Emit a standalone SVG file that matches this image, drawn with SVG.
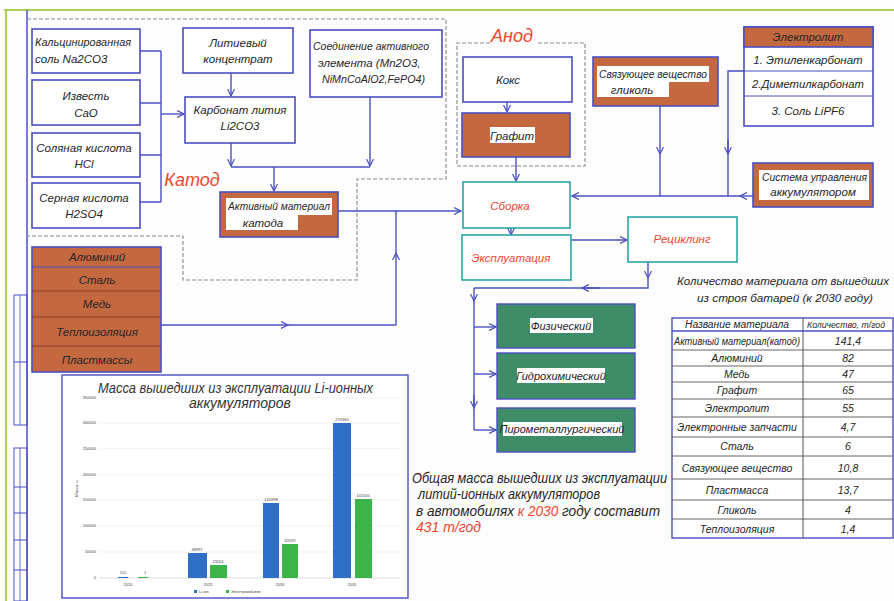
<svg xmlns="http://www.w3.org/2000/svg" width="894" height="601" viewBox="0 0 894 601">
<defs>
<marker id="ar" markerWidth="8" markerHeight="8" refX="7" refY="4" orient="auto" markerUnits="userSpaceOnUse">
<path d="M0,0.5 L7,4 L0,7.5" fill="none" stroke="#4a4fc2" stroke-width="1.2"/>
</marker>
<style>
.bx{fill:#fff;stroke:#4a4fc2;stroke-width:1.6}
.br{fill:#c4683f;stroke:#4a4fc2;stroke-width:1.6}
.gr{fill:#3f8c68;stroke:#4a4fc2;stroke-width:1.4}
.tl{fill:#fff;stroke:#2aa6a8;stroke-width:1.6}
.ln{fill:none;stroke:#4a4fc2;stroke-width:1.4}
.ds{fill:none;stroke:#8a8a8a;stroke-width:1.1;stroke-dasharray:4 2}
.t{font-family:"Liberation Sans",Arial,sans-serif;font-style:italic;font-size:11.5px;fill:#262626}
.c{text-anchor:middle}
.r{fill:#f0462e}
.wb{fill:#fff}
.tb{font-family:"Liberation Sans",Arial,sans-serif;font-style:italic;font-size:10.5px;fill:#262626;text-anchor:middle}
.sm{font-family:"Liberation Sans",Arial,sans-serif;font-size:4px;fill:#444}
.grid{stroke:#e6e6e6;stroke-width:0.6}
</style>
</defs>
<rect width="894" height="601" fill="#fdfdfd"/>
<g id="frame">
<line x1="4" y1="10" x2="894" y2="10" stroke="#a9d05a" stroke-width="2"/>
<line x1="6" y1="10" x2="6" y2="601" stroke="#a9d05a" stroke-width="2"/>
<line x1="27" y1="10" x2="27" y2="601" stroke="#4a4fc2" stroke-width="1.5"/>
<rect x="14" y="295" width="13" height="130" fill="none" stroke="#4a4fc2" stroke-width="1"/>
<line x1="20" y1="295" x2="20" y2="425" stroke="#4a4fc2" stroke-width="0.8"/>
<line x1="14" y1="362" x2="27" y2="362" stroke="#4a4fc2" stroke-width="1"/>
<rect x="14" y="448" width="13" height="153" fill="none" stroke="#4a4fc2" stroke-width="1"/>
<line x1="20" y1="448" x2="20" y2="601" stroke="#4a4fc2" stroke-width="0.8"/>
<line x1="14" y1="487" x2="27" y2="487" stroke="#4a4fc2" stroke-width="1"/>
<line x1="14" y1="513" x2="27" y2="513" stroke="#4a4fc2" stroke-width="1"/>
<line x1="14" y1="540" x2="27" y2="540" stroke="#4a4fc2" stroke-width="1"/>
<line x1="14" y1="570" x2="27" y2="570" stroke="#4a4fc2" stroke-width="1"/>
</g>
<g id="regions">
<path class="ds" d="M27,19 H446 V179 H357 V280 H183 V236 H27"/>
<path class="ds" d="M490,43 H457 V166 H585 V43 H536"/>
<text class="t r" x="512" y="42" style="font-size:18px" text-anchor="middle">Анод</text>
<text class="t r" x="192" y="186" style="font-size:18px" text-anchor="middle">Катод</text>
</g>
<g id="connectors">
<path class="ln" d="M140,51 H161 M140,103 H161 M140,155 H161 M140,202 H161 M161,51 V202"/>
<line class="ln" x1="161" y1="114" x2="184" y2="114" marker-end="url(#ar)"/>
<line class="ln" x1="231" y1="73" x2="231" y2="96" marker-end="url(#ar)"/>
<line class="ln" x1="231" y1="143" x2="231" y2="166" marker-end="url(#ar)"/>
<line class="ln" x1="370" y1="97" x2="370" y2="166" marker-end="url(#ar)"/>
<line class="ln" x1="231" y1="167" x2="370" y2="167"/>
<line class="ln" x1="274" y1="167" x2="274" y2="191" marker-end="url(#ar)"/>
<line class="ln" x1="338" y1="211" x2="461" y2="211" marker-end="url(#ar)"/>
<line class="ln" x1="161" y1="325" x2="288" y2="325" marker-end="url(#ar)"/>
<line class="ln" x1="288" y1="325" x2="396" y2="325"/>
<line class="ln" x1="396" y1="325" x2="396" y2="253" marker-end="url(#ar)"/>
<line class="ln" x1="396" y1="253" x2="396" y2="211"/>
<line class="ln" x1="507" y1="102" x2="507" y2="112" marker-end="url(#ar)"/>
<line class="ln" x1="516" y1="157" x2="516" y2="181" marker-end="url(#ar)"/>
<line class="ln" x1="511" y1="228" x2="511" y2="235" marker-end="url(#ar)"/>
<line class="ln" x1="571" y1="240" x2="627" y2="240" marker-end="url(#ar)"/>
<line class="ln" x1="648" y1="262" x2="648" y2="278" marker-end="url(#ar)"/>
<path class="ln" d="M648,278 V288 H582"/>
<line class="ln" x1="600" y1="288" x2="582" y2="288" marker-end="url(#ar)"/>
<line class="ln" x1="582" y1="288" x2="474" y2="288"/>
<line class="ln" x1="474" y1="288" x2="474" y2="301" marker-end="url(#ar)"/>
<line class="ln" x1="474" y1="301" x2="474" y2="430"/>
<line class="ln" x1="474" y1="395" x2="474" y2="408" marker-end="url(#ar)"/>
<line class="ln" x1="474" y1="327" x2="496" y2="327" marker-end="url(#ar)"/>
<line class="ln" x1="474" y1="374" x2="496" y2="374" marker-end="url(#ar)"/>
<line class="ln" x1="474" y1="430" x2="496" y2="430" marker-end="url(#ar)"/>
<line class="ln" x1="660" y1="106" x2="660" y2="154" marker-end="url(#ar)"/>
<line class="ln" x1="660" y1="154" x2="660" y2="196"/>
<path class="ln" d="M744,71 H728 V154"/>
<line class="ln" x1="728" y1="140" x2="728" y2="154" marker-end="url(#ar)"/>
<line class="ln" x1="728" y1="154" x2="728" y2="196"/>
<line class="ln" x1="753" y1="196" x2="740" y2="196" marker-end="url(#ar)"/>
<line class="ln" x1="740" y1="196" x2="572" y2="196" marker-end="url(#ar)"/>
</g>
<g id="n-soda"><rect class="bx" x="32" y="29" width="108" height="44"/>
<text class="t" x="35" y="46" textLength="96" lengthAdjust="spacingAndGlyphs">Кальцинированная</text><text class="t" x="35" y="63">соль Na2CO3</text></g>
<g id="n-lime"><rect class="bx" x="32" y="80" width="108" height="45"/>
<text class="t c" x="86" y="100">Известь</text><text class="t c" x="86" y="117">CaO</text></g>
<g id="n-hcl"><rect class="bx" x="32" y="133" width="108" height="44"/>
<text class="t c" x="84" y="152">Соляная кислота</text><text class="t c" x="84" y="168">HCl</text></g>
<g id="n-h2so4"><rect class="bx" x="32" y="183" width="108" height="45"/>
<text class="t c" x="84" y="202">Серная кислота</text><text class="t c" x="84" y="218">H2SO4</text></g>
<g id="n-lith"><rect class="bx" x="183" y="28" width="110" height="45"/>
<text class="t c" x="238" y="47">Литиевый</text><text class="t c" x="238" y="63">концентрат</text></g>
<g id="n-li2co3"><rect class="bx" x="185" y="97" width="110" height="46"/>
<text class="t c" x="240" y="114">Карбонат лития</text><text class="t c" x="240" y="130">Li2CO3</text></g>
<g id="n-compound"><rect class="bx" x="310" y="30" width="132" height="67"/>
<text class="t" x="313" y="50" textLength="116" lengthAdjust="spacingAndGlyphs">Соединение активного</text><text class="t" x="318" y="67">элемента (Mn2O3,</text><text class="t" x="322" y="83" textLength="103" lengthAdjust="spacingAndGlyphs">NiMnCoAlO2,FePO4)</text></g>
<g id="n-active"><rect class="br" x="220" y="192" width="118" height="45"/>
<rect class="wb" x="226" y="198" width="106" height="17"/><rect class="wb" x="226" y="215" width="72" height="15"/>
<text class="t" x="228" y="210" textLength="102" lengthAdjust="spacingAndGlyphs">Активный материал</text><text class="t c" x="263" y="227">катода</text></g>
<g id="n-materials">
<rect class="br" x="32" y="247" width="129" height="125"/>
<line x1="32" y1="267" x2="161" y2="267" stroke="#4a4fc2" stroke-width="1"/>
<line x1="32" y1="291" x2="161" y2="291" stroke="#8b3f25" stroke-width="1"/>
<line x1="32" y1="317" x2="161" y2="317" stroke="#8b3f25" stroke-width="1"/>
<line x1="32" y1="346" x2="161" y2="346" stroke="#8b3f25" stroke-width="1"/>
<text class="t c" x="97" y="261">Алюминий</text>
<text class="t c" x="97" y="284">Сталь</text>
<text class="t c" x="97" y="308">Медь</text>
<text class="t c" x="97" y="336">Теплоизоляция</text>
<text class="t c" x="97" y="364">Пластмассы</text>
</g>
<g id="n-coke"><rect class="bx" x="463" y="57" width="109" height="45"/>
<text class="t c" x="508" y="84">Кокс</text></g>
<g id="n-graphite"><rect class="br" x="462" y="113" width="108" height="44"/>
<rect class="wb" x="490" y="127" width="45" height="16"/>
<text class="t c" x="512" y="140">Графит</text></g>
<g id="n-assembly"><rect class="tl" x="463" y="182" width="107" height="46"/>
<text class="t c r" x="510" y="210">Сборка</text></g>
<g id="n-exploit"><rect class="tl" x="462" y="235" width="109" height="45"/>
<text class="t c r" x="511" y="262">Эксплуатация</text></g>
<g id="n-recycle"><rect class="tl" x="628" y="217" width="109" height="45"/>
<text class="t c r" x="682" y="243">Рециклинг</text></g>
<g id="n-phys"><rect class="gr" x="497" y="304" width="138" height="44"/>
<rect class="wb" x="530" y="318" width="63" height="15"/>
<text class="t c" x="561" y="330" style="font-size:11px">Физический</text></g>
<g id="n-hydro"><rect class="gr" x="497" y="353" width="138" height="46"/>
<rect class="wb" x="517" y="368" width="88" height="15"/>
<text class="t c" x="561" y="380" style="font-size:11px">Гидрохимический</text></g>
<g id="n-pyro"><rect class="gr" x="497" y="408" width="138" height="44"/>
<rect class="wb" x="503" y="422" width="119" height="14"/>
<text class="t c" x="562" y="433" style="font-size:11px">Пирометаллургический</text></g>
<g id="n-binder"><rect class="br" x="593" y="57" width="125" height="49"/>
<rect class="wb" x="597" y="66" width="112" height="16"/><rect class="wb" x="597" y="82" width="72" height="15"/>
<text class="t" x="599" y="78" textLength="108" lengthAdjust="spacingAndGlyphs">Связующее вещество</text><text class="t c" x="632" y="94">гликоль</text></g>
<g id="n-electrolyte">
<rect class="bx" x="744" y="27" width="129" height="99"/>
<rect class="br" x="744" y="27" width="129" height="20"/>
<line x1="744" y1="71" x2="873" y2="71" stroke="#4a4fc2" stroke-width="1"/>
<line x1="744" y1="96" x2="873" y2="96" stroke="#4a4fc2" stroke-width="1"/>
<text class="t c" x="808" y="41">Электролит</text>
<text class="t c" x="808" y="64">1. Этиленкарбонат</text>
<text class="t c" x="808" y="88" textLength="112" lengthAdjust="spacingAndGlyphs">2.Диметилкарбонат</text>
<text class="t c" x="808" y="115">3. Соль LiPF6</text>
</g>
<g id="n-bms"><rect class="br" x="753" y="163" width="120" height="44"/>
<rect class="wb" x="759" y="170" width="110" height="30"/>
<text class="t" x="762" y="181" textLength="105" lengthAdjust="spacingAndGlyphs">Система управления</text><text class="t c" x="813" y="196">аккумулятором</text></g>
<g id="table">
<text class="t" x="677" y="285" textLength="212" lengthAdjust="spacingAndGlyphs">Количество материала от вышедших</text>
<text class="t" x="697" y="302" textLength="176" lengthAdjust="spacingAndGlyphs">из строя батарей (к 2030 году)</text>
<rect x="672" y="318" width="221" height="220" fill="#fff" stroke="#4a4fc2" stroke-width="1.4"/>
<line x1="803" y1="318" x2="803" y2="538" stroke="#555" stroke-width="1"/>
<g stroke="#555" stroke-width="0.9">
<line x1="672" y1="331" x2="893" y2="331" stroke="#4a4fc2" stroke-width="1.3"/>
<line x1="672" y1="350" x2="893" y2="350"/><line x1="672" y1="366" x2="893" y2="366"/>
<line x1="672" y1="382" x2="893" y2="382"/><line x1="672" y1="399" x2="893" y2="399"/>
<line x1="672" y1="417" x2="893" y2="417"/><line x1="672" y1="437" x2="893" y2="437"/>
<line x1="672" y1="456" x2="893" y2="456"/><line x1="672" y1="479" x2="893" y2="479"/>
<line x1="672" y1="500" x2="893" y2="500"/><line x1="672" y1="519" x2="893" y2="519"/>
</g>
<text class="tb" x="737" y="328" style="font-size:10px" textLength="104" lengthAdjust="spacingAndGlyphs">Название материала</text><text class="tb" x="846" y="328" style="font-size:9.5px" textLength="78" lengthAdjust="spacingAndGlyphs">Количество, т/год</text>
<text class="tb" x="737" y="345" textLength="126" lengthAdjust="spacingAndGlyphs">Активный материал(катод)</text><text class="tb" x="848" y="345">141,4</text>
<text class="tb" x="737" y="362">Алюминий</text><text class="tb" x="848" y="362">82</text>
<text class="tb" x="737" y="378">Медь</text><text class="tb" x="848" y="378">47</text>
<text class="tb" x="737" y="394">Графит</text><text class="tb" x="848" y="394">65</text>
<text class="tb" x="737" y="412">Электролит</text><text class="tb" x="848" y="412">55</text>
<text class="tb" x="737" y="431">Электронные запчасти</text><text class="tb" x="848" y="431">4,7</text>
<text class="tb" x="737" y="450">Сталь</text><text class="tb" x="848" y="450">6</text>
<text class="tb" x="737" y="472">Связующее вещество</text><text class="tb" x="848" y="472">10,8</text>
<text class="tb" x="737" y="494">Пластмасса</text><text class="tb" x="848" y="494">13,7</text>
<text class="tb" x="737" y="514">Гликоль</text><text class="tb" x="848" y="514">4</text>
<text class="tb" x="737" y="533">Теплоизоляция</text><text class="tb" x="848" y="533">1,4</text>
</g>
<g id="chart">
<rect x="62" y="375" width="346" height="223" fill="#fff" stroke="#4a4fc2" stroke-width="1.4"/>
<text class="t" x="98" y="393" style="font-size:14px;fill:#333" textLength="275" lengthAdjust="spacingAndGlyphs">Масса вышедших из эксплуатации Li-ионных</text>
<text class="t c" x="240" y="408" style="font-size:14px;fill:#333">аккумуляторов</text>
<g class="grid">
<line x1="100" y1="552" x2="400" y2="552"/><line x1="100" y1="526" x2="400" y2="526"/>
<line x1="100" y1="500" x2="400" y2="500"/><line x1="100" y1="475" x2="400" y2="475"/>
<line x1="100" y1="449" x2="400" y2="449"/><line x1="100" y1="423" x2="400" y2="423"/>
<line x1="100" y1="398" x2="400" y2="398"/>
</g>
<line x1="100" y1="578" x2="400" y2="578" stroke="#ccc" stroke-width="0.7"/>
<g class="sm" text-anchor="end">
<text x="96" y="579">0</text><text x="96" y="553">50000</text><text x="96" y="527">100000</text>
<text x="96" y="501">150000</text><text x="96" y="476">200000</text><text x="96" y="450">250000</text>
<text x="96" y="424">300000</text><text x="96" y="399">350000</text>
</g>
<text class="sm" transform="translate(78,488) rotate(-90)" text-anchor="middle">Масса, кг</text>
<rect x="118" y="577" width="10" height="1" fill="#2f6fc7"/>
<rect x="138" y="577" width="10" height="1" fill="#3cb44a"/>
<rect x="188" y="553" width="19" height="25" fill="#2f6fc7"/>
<rect x="210" y="565" width="17" height="13" fill="#3cb44a"/>
<rect x="263" y="503" width="16" height="75" fill="#2f6fc7"/>
<rect x="282" y="544" width="16" height="34" fill="#3cb44a"/>
<rect x="333" y="423" width="18" height="155" fill="#2f6fc7"/>
<rect x="355" y="499" width="17" height="79" fill="#3cb44a"/>
<g class="sm" text-anchor="middle">
<text x="123" y="574">151</text><text x="145" y="574">1</text>
<text x="197" y="551">48997</text><text x="218" y="563">23054</text>
<text x="271" y="501">145998</text><text x="290" y="542">62029</text>
<text x="342" y="421">279465</text><text x="363" y="497">142005</text>
<text x="128" y="586">2020</text><text x="208" y="586">2025</text>
<text x="280" y="586">2030</text><text x="352" y="586">2035</text>
</g>
<rect x="194" y="590" width="3" height="3" fill="#2f6fc7"/>
<text class="sm" x="199" y="593">Li-ion</text>
<rect x="226" y="590" width="3" height="3" fill="#3cb44a"/>
<text class="sm" x="231" y="593">Электромобили</text>
</g>
<g id="summary">
<text class="t" x="412" y="483" style="font-size:14px" textLength="255" lengthAdjust="spacingAndGlyphs">Общая масса вышедших из эксплуатации</text>
<text class="t" x="418" y="499" style="font-size:14px" textLength="182" lengthAdjust="spacingAndGlyphs">литий-ионных аккумуляторов</text>
<text class="t" x="416" y="516" style="font-size:14px" textLength="244" lengthAdjust="spacingAndGlyphs">в автомобилях <tspan class="r">к 2030</tspan> году составит</text>
<text class="t r" x="416" y="532" style="font-size:14px">431 т/год</text>
</g>
</svg>
